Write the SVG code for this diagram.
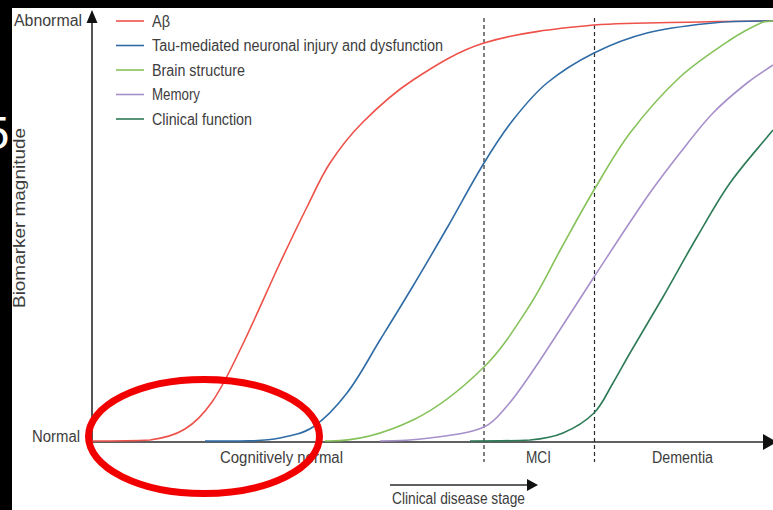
<svg xmlns="http://www.w3.org/2000/svg" width="773" height="510" viewBox="0 0 773 510">
<style>
  text { font-family: "Liberation Sans", Arial, sans-serif; font-size: 16px; fill: #3d3d3d; }
  .curve { fill: none; stroke-width: 1.6; }
  .leg { stroke-width: 1.6; }
  .axis { stroke: #2b2b2b; stroke-width: 1.6; fill: none; }
  .dash { stroke: #2b2b2b; stroke-width: 1.2; stroke-dasharray: 4 3; fill: none; }
  .ab { stroke: #ee5149; }
  .tau { stroke: #2f6ca6; }
  .brain { stroke: #86c25a; }
  .mem { stroke: #a690cb; }
  .clin { stroke: #2d7b57; }
</style>
<rect x="0" y="0" width="773" height="510" fill="#000"/>
<rect x="12" y="8" width="761" height="502" fill="#fff"/>
<text x="9.5" y="149" text-anchor="end" style="font-size:47px;fill:#fff">5</text>

<g id="axes">
  <line class="axis" x1="92" y1="442" x2="92" y2="20"/>
  <polygon points="92,10 86.5,23 97.5,23" fill="#111"/>
  <line class="axis" x1="92" y1="442" x2="765" y2="442"/>
  <polygon points="777,442 763,434 763,450" fill="#111"/>
  <line class="dash" x1="484" y1="18" x2="484" y2="462"/>
  <line class="dash" x1="594.5" y1="18" x2="594.5" y2="462"/>
</g>

<g id="axis-labels">
  <text x="14" y="26" textLength="68" lengthAdjust="spacingAndGlyphs">Abnormal</text>
  <text x="32" y="442" textLength="48" lengthAdjust="spacingAndGlyphs">Normal</text>
  <text transform="translate(25,218) rotate(-90)" text-anchor="middle" textLength="180" lengthAdjust="spacingAndGlyphs">Biomarker magnitude</text>
  <text x="220" y="463" textLength="123" lengthAdjust="spacingAndGlyphs">Cognitively normal</text>
  <text x="526" y="463" textLength="25" lengthAdjust="spacingAndGlyphs">MCI</text>
  <text x="652" y="463" textLength="61" lengthAdjust="spacingAndGlyphs">Dementia</text>
  <text x="392" y="504" textLength="133" lengthAdjust="spacingAndGlyphs">Clinical disease stage</text>
</g>

<g id="stage-arrow">
  <line class="axis" x1="390" y1="485" x2="530" y2="485"/>
  <polygon points="538,485 527,479 527,491" fill="#111"/>
</g>

<g id="legend">
  <line class="leg ab" x1="116" y1="21" x2="144" y2="21"/>
  <text x="152" y="27" textLength="18" lengthAdjust="spacingAndGlyphs">Aβ</text>
  <line class="leg tau" x1="116" y1="45.5" x2="144" y2="45.5"/>
  <text x="152" y="51" textLength="291" lengthAdjust="spacingAndGlyphs">Tau-mediated neuronal injury and dysfunction</text>
  <line class="leg brain" x1="116" y1="70" x2="144" y2="70"/>
  <text x="152" y="76" textLength="93" lengthAdjust="spacingAndGlyphs">Brain structure</text>
  <line class="leg mem" x1="116" y1="94.5" x2="144" y2="94.5"/>
  <text x="152" y="100" textLength="48" lengthAdjust="spacingAndGlyphs">Memory</text>
  <line class="leg clin" x1="116" y1="119" x2="144" y2="119"/>
  <text x="152" y="124.5" textLength="100" lengthAdjust="spacingAndGlyphs">Clinical function</text>
</g>

<g id="curves">
  <path id="curve-abeta" class="curve ab" d="M92,441 C111.3,441 130.9,441 150,440 C162.1,438.4 174.6,435.4 185,429 C195.8,422.4 204.7,412.4 212,402 C223.2,385.8 231.4,367.7 240,350 C254,321.4 266.5,291.9 280,263 C288.8,244.3 297.7,225.5 307,207 C314.4,192.2 320.9,176.8 330,163 C339.6,148.4 350.6,134.4 363,122 C378.4,106.6 394.8,91.9 413,80 C435.3,65.4 458.4,50.8 484,43 C519.6,32.2 557,28.6 594,25 C629,22.5 664.7,22.8 700,22 C724.3,21.5 748.7,21.1 773,21"/>
  <path id="curve-tau" class="curve tau" d="M205,441 L240,441 C253.4,441 266.8,440.5 280,438 C291.4,435.8 303.4,433.5 313,427 C326.3,418.1 337.2,405.7 347,393 C359.7,376.5 369.1,357.7 380,340 C391.1,322 402.2,304.1 413,286 C424.5,266.8 435.8,247.4 447,228 C459.5,206.4 471,184.2 484,163 C493,148.2 502.3,133.6 513,120 C523.3,106.9 534.1,93.6 547,83 C561.3,71.2 577.4,61.3 594,53 C610.9,44.6 628.7,37.6 647,33 C668.6,27.5 690.8,25.4 713,23 C728.6,21.3 744.3,21 760,21 L773,21"/>
  <path id="curve-brain" class="curve brain" d="M325,441 L330,441 C358.5,441 387.3,432.3 413,420 C439.6,407.2 463,387.7 484,367 C502.3,349 516,326.6 530,305 C542.4,285.9 551.9,264.9 563,245 C573.2,226.6 583.2,208 594,190 C605.5,170.7 616.4,150.9 630,133 C645.2,113.1 661.7,94 680,77 C695.2,62.9 712.7,51.5 730,40 C740.4,33.1 751.6,27.1 763,22 L773,21"/>
  <path id="curve-memory" class="curve mem" d="M380,441 C396.7,441 413.4,440.2 430,438 C448.2,435.6 467,434.1 484,427 C493.6,423 500.1,413.8 507,406 C515.6,396.3 522.7,385.6 530,375 C541.4,358.6 552.1,341.7 563,325 C573.4,309.1 583.6,292.9 594,277 C611.6,250.2 628.8,223.3 647,197 C657.4,182 668.7,167.4 680,153 C690.7,139.4 701,125.5 713,113 C723.4,102.1 735.2,92.4 747,83 C755.2,76.4 764.4,71 773,65"/>
  <path id="curve-clinical" class="curve clin" d="M470,441 C490,441 510,441 530,440 C541.2,439 552.7,437.4 563,433 C574.3,428.2 585.3,421.7 594,413 C602.3,404.7 606.9,393.1 613,383 C618.9,373.1 624.2,362.9 630,353 C640.9,334.2 652.1,315.8 663,297 C674.5,277.1 685.3,256.8 697,237 C707.7,218.8 717.8,200.2 730,183 C743.2,164.4 758.6,147.7 773,130"/>
</g>

<g id="highlight">
  <ellipse cx="204" cy="436.5" rx="115.5" ry="57" fill="none" stroke="#f20000" stroke-width="7"/>
</g>
</svg>
